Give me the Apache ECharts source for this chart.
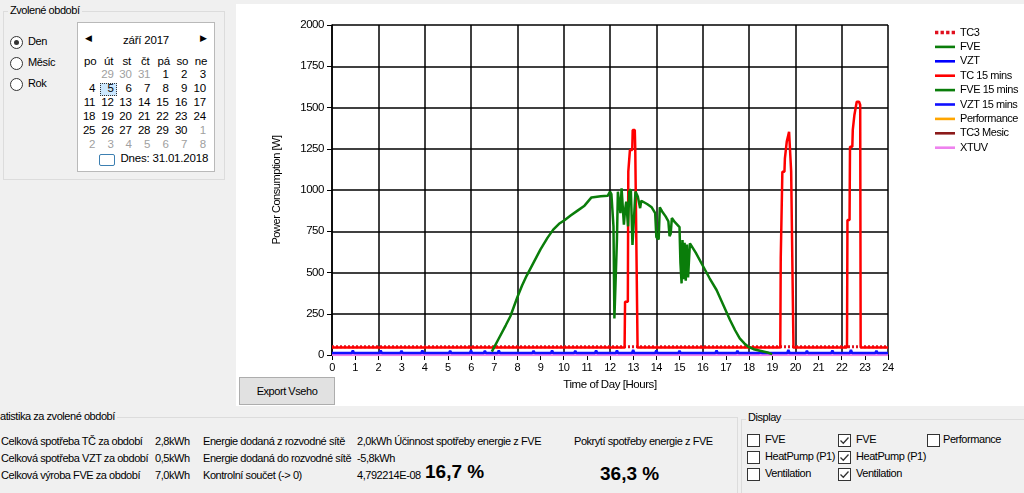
<!DOCTYPE html>
<html>
<head>
<meta charset="utf-8">
<script src="https://cdn.jsdelivr.net/npm/echarts@6/dist/echarts.min.js"></script>
<style>
html,body{margin:0;padding:0;width:1024px;height:493px;overflow:hidden;background:#f0f0f0;font-family:"Liberation Sans",Arial,sans-serif;font-size:11px;letter-spacing:-0.45px;color:#000;}
.abs{position:absolute;white-space:nowrap;}
.gb{position:absolute;border:1px solid #dcdcdc;}
.gbt{position:absolute;background:#f0f0f0;padding:0 2px;white-space:nowrap;}
.radio{position:absolute;width:11px;height:11px;border:1px solid #333;border-radius:50%;background:#fff;}
.radio.on::after{content:"";position:absolute;left:3px;top:3px;width:5px;height:5px;border-radius:50%;background:#333;}
.cb{position:absolute;width:11px;height:11px;border:1px solid #333;background:#fff;}
.cb svg{position:absolute;left:0px;top:0px;}
.cal{position:absolute;left:77px;top:22px;width:136px;height:148px;background:#fff;border:1px solid #b9b9b9;font-size:11.5px;letter-spacing:-0.2px;}
.dh,.dn{position:absolute;width:18px;text-align:center;}
.dn{text-align:right;}
.gray{color:#a0a0a0;}
#chart{position:absolute;left:236px;top:4px;width:788px;height:402px;background:#fff;}
.btn{position:absolute;left:239px;top:377px;width:94px;height:26px;background:#e1e1e1;border:1px solid #adadad;text-align:center;line-height:26px;}
.big{position:absolute;font-weight:bold;font-size:19px;letter-spacing:0;white-space:nowrap;}
</style>
</head>
<body>
<!-- Period selector -->
<div class="gb" style="left:3px;top:11px;width:220px;height:167px;"></div>
<div class="gbt" style="left:8px;top:4px;">Zvolené období</div>
<div class="radio on" style="left:10px;top:36px;"></div><div class="abs" style="left:28px;top:35px;">Den</div>
<div class="radio" style="left:10px;top:57px;"></div><div class="abs" style="left:28px;top:56px;">Měsíc</div>
<div class="radio" style="left:10px;top:78px;"></div><div class="abs" style="left:28px;top:77px;">Rok</div>
<div class="cal" id="cal"></div>

<div id="chart"></div>
<div class="btn">Export Vseho</div>

<!-- Statistics -->
<div class="gb" style="left:-2px;top:417px;width:738px;height:80px;"></div>
<div class="gbt" style="left:0px;top:410px;padding-left:0;">atistika za zvolené období</div>
<div id="stats"></div>
<div class="big" style="left:425px;top:461px;">16,7 %</div>
<div class="big" style="left:600px;top:463px;">36,3 %</div>

<!-- Display -->
<div class="gb" style="left:741px;top:419px;width:290px;height:80px;"></div>
<div class="gbt" style="left:746px;top:411px;">Display</div>
<div id="disp"></div>

<script>
// ---------- data ----------
const monthTitle = 'září 2017';
const dayNames = ['po','út','st','čt','pá','so','ne'];
const calDays = [
  [29,30,31,1,2,3],
  [4,5,6,7,8,9,10],
  [11,12,13,14,15,16,17],
  [18,19,20,21,22,23,24],
  [25,26,27,28,29,30,1],
  [2,3,4,5,6,7,8]
];
const todayText = 'Dnes: 31.01.2018';

const statLabels = ['Celková spotřeba TČ za období','Celková spotřeba VZT za období','Celková výroba FVE za období'];
const statValues = ['2,8kWh','0,5kWh','7,0kWh'];
const gridLabels = ['Energie dodaná z rozvodné sítě','Energie dodaná do rozvodné sítě','Kontrolní součet (-> 0)'];
const gridValues = ['2,0kWh Účinnost spotřeby energie z FVE','-5,8kWh','4,792214E-08'];
const coverLabel = 'Pokrytí spotřeby energie z FVE';

const displayCol1 = ['FVE','HeatPump (P1)','Ventilation'];
const displayCol2 = ['FVE','HeatPump (P1)','Ventilation'];
const displayCol3 = ['Performance'];

const seriesNames = ['TC3','FVE','VZT','TC 15 mins','FVE 15 mins','VZT 15 mins','Performance','TC3 Mesic','XTUV'];
const seriesColors = ['#e0101e','#0a7d0a','#0000ff','#ff0000','#0a7d0a','#1010ff','#ffa500','#8b1a1a','#ee82ee'];

// TC3 (dotted) baseline
const tc3Hours = [0, 24];
const tc3Values = [50, 50];
// VZT baseline
const vztHours = [0, 24];
const vztValues = [4, 4];
// XTUV
const xtuvHours = [0, 24];
const xtuvValues = [0, 0];

// TC 15 mins (red)
const tcHours = [0, 12.63, 12.65, 12.77, 12.79, 12.84, 12.86, 12.96, 12.98, 13.07, 13.09, 13.17, 13.19,
  19.35, 19.37, 19.42, 19.44, 19.53, 19.55, 19.61, 19.63, 19.71, 19.73, 19.8, 19.82, 19.9, 19.92,
  22.23, 22.25, 22.34, 22.36, 22.46, 22.48, 22.53, 22.55, 22.63, 22.65, 22.75, 22.8, 22.82, 24];
const tcValues = [45, 45, 323, 323, 1111, 1111, 1242, 1242, 1364, 1364, 1250, 1250, 45,
  45, 586, 586, 1111, 1111, 1192, 1192, 1293, 1293, 1353, 1353, 1111, 1111, 45,
  45, 818, 818, 1262, 1262, 1364, 1364, 1455, 1455, 1535, 1535, 1515, 45, 45];

// FVE 15 mins (green)
const fveHours = [6.9, 7.2, 7.5, 7.7, 8.0, 8.2, 8.4, 8.7, 9.0, 9.3, 9.55, 9.8, 10.05, 10.3, 10.6, 10.9, 11.2, 11.6, 11.9, 12.0,
  12.06, 12.15, 12.19, 12.25, 12.3, 12.34, 12.38, 12.45, 12.5, 12.55, 12.6, 12.65, 12.7, 12.78, 12.83, 12.9, 12.97, 13.03, 13.1, 13.2,
  13.3, 13.35, 13.42, 13.6, 13.8, 13.95, 14.0, 14.1, 14.15, 14.25, 14.4, 14.52, 14.57, 14.62, 14.67, 14.8, 15.0, 15.04, 15.09, 15.13,
  15.18, 15.22, 15.27, 15.32, 15.37, 15.45, 15.7, 16.03, 16.3, 16.6, 16.9, 17.18, 17.4, 17.6, 17.8, 17.97, 18.2, 18.47, 18.8, 19.0];
const fveValues = [20, 100, 180, 235, 350, 420, 480, 560, 640, 710, 760, 795, 818, 845, 875, 905, 955, 962, 965, 990,
  975, 780, 222, 230, 700, 990, 1000, 860, 1010, 900, 790, 880, 930, 780, 990, 1005, 667, 670, 990, 960,
  890, 935, 925, 915, 895, 860, 715, 700, 895, 870, 840, 810, 720, 735, 830, 805, 775, 560, 434, 697,
  460, 680, 450, 670, 470, 677, 620, 535, 465, 394, 300, 212, 150, 101, 70, 50, 35, 26, 15, 5];

// VZT 15 mins (blue)
const vzt15Hours = [0, 0.85, 0.9, 0.95, 2.05, 2.1, 2.15, 2.95, 3.0, 3.05, 3.85, 3.9, 3.95, 5.05, 5.1, 5.15,
  5.95, 6.0, 6.05, 6.55, 6.6, 6.65, 7.15, 7.2, 7.25, 8.65, 8.7, 8.75, 9.45, 9.5, 9.55, 10.45, 10.5, 10.55,
  11.35, 11.4, 11.45, 12.25, 12.3, 12.35, 12.95, 13.0, 13.05, 13.95, 14.0, 14.05, 14.95, 15.0, 15.05,
  16.55, 16.6, 16.65, 17.45, 17.5, 17.55, 18.45, 18.5, 18.55, 19.65, 19.7, 19.75, 20.45, 20.5, 20.55,
  21.55, 21.6, 21.65, 22.35, 22.4, 22.45, 23.45, 23.5, 23.55, 24];
const vzt15Values = [12, 12, 28, 12, 12, 28, 12, 12, 26, 12, 12, 28, 12, 12, 26, 12,
  12, 28, 12, 12, 26, 12, 12, 28, 12, 12, 26, 12, 12, 28, 12, 12, 26, 12,
  12, 28, 12, 12, 28, 12, 12, 30, 12, 12, 28, 12, 12, 26, 12,
  12, 28, 12, 12, 26, 12, 12, 28, 12, 12, 30, 12, 12, 26, 12,
  12, 28, 12, 12, 30, 12, 12, 26, 12, 12];

const xMin = 0, xMax = 24, xLabelStep = 1, xGridStep = 2;
const yMin = 0, yMax = 2000, yStep = 250;

// ---------- UI ----------
(function buildCalendar(){
  const cal = document.getElementById('cal');
  const ox = 77, oy = 22;
  const colCenters = [89.3,107.7,125.7,144.3,162.7,181.3,200];
  const rowY = [74,88.3,101.7,116,130,144];
  let h = '';
  h += `<div class="abs" style="left:${86.5-ox-3}px;top:${39-oy-7}px;font-size:9px;">&#9664;</div>`;
  h += `<div class="abs" style="left:${201.7-ox-3}px;top:${39-oy-7}px;font-size:9px;">&#9654;</div>`;
  h += `<div class="abs" style="left:0;width:136px;text-align:center;top:${39.5-oy-7}px;">${monthTitle}</div>`;
  dayNames.forEach((d,i)=>{ h += `<div class="dh" style="left:${colCenters[i]-ox-9}px;top:${60.7-oy-7}px;">${d}</div>`; });
  calDays.forEach((row,r)=>{
    const start = r===0 ? 1 : 0;
    row.forEach((d,j)=>{
      const c = start + j;
      const gray = (r===0 && d>20) || (r===4 && c===6) || r===5;
      const sel = (r===1 && d===5);
      if(sel){
        h += `<div class="abs" style="left:${99.3-ox}px;top:${81.5-oy}px;width:17px;height:13px;background:#cce8ff;border:1px dotted #333;box-sizing:border-box;"></div>`;
      }
      h += `<div class="dn${gray?' gray':''}" style="left:${colCenters[c]+5-18-ox}px;top:${rowY[r]-oy-7}px;">${d}</div>`;
    });
  });
  h += `<div class="abs" style="left:${98-ox}px;top:${152.5-oy}px;width:14px;height:10px;border:1.5px solid #3c7fb1;border-radius:2px;"></div>`;
  h += `<div class="abs" style="left:${119.5-ox}px;top:${158-oy-7}px;">${todayText}</div>`;
  cal.innerHTML = h;
})();

(function buildStats(){
  const el = document.getElementById('stats');
  const rowsY = [442, 459, 476];
  let h = '';
  rowsY.forEach((y,i)=>{
    h += `<div class="abs" style="left:1px;top:${y-7}px;">${statLabels[i]}</div>`;
    h += `<div class="abs" style="left:155px;top:${y-7}px;">${statValues[i]}</div>`;
    h += `<div class="abs" style="left:203px;top:${y-7}px;">${gridLabels[i]}</div>`;
    h += `<div class="abs" style="left:357px;top:${y-7}px;">${gridValues[i]}</div>`;
  });
  h += `<div class="abs" style="left:574px;top:${442-7}px;">${coverLabel}</div>`;
  el.innerHTML = h;
})();

(function buildDisplay(){
  const el = document.getElementById('disp');
  const rowsY = [440, 457, 474];
  const check = '<svg width="11" height="11" viewBox="0 0 11 11"><path d="M1.5 5.5 L4.3 8.3 L9.5 2.5" fill="none" stroke="#333" stroke-width="1.3"/></svg>';
  let h = '';
  displayCol1.forEach((t,i)=>{
    h += `<div class="cb" style="left:747px;top:${rowsY[i]-6}px;"></div><div class="abs" style="left:765px;top:${rowsY[i]-7}px;">${t}</div>`;
  });
  displayCol2.forEach((t,i)=>{
    h += `<div class="cb" style="left:838px;top:${rowsY[i]-6}px;">${check}</div><div class="abs" style="left:856px;top:${rowsY[i]-7}px;">${t}</div>`;
  });
  displayCol3.forEach((t,i)=>{
    h += `<div class="cb" style="left:927px;top:${rowsY[i]-6}px;"></div><div class="abs" style="left:943px;top:${rowsY[i]-7}px;">${t}</div>`;
  });
  el.innerHTML = h;
})();

// ---------- chart ----------
function pairs(xs, ys){ return xs.map((x,i)=>[x, ys[i]]); }
const seriesData = {
  'TC3': pairs(tc3Hours, tc3Values),
  'FVE': [],
  'VZT': pairs(vztHours, vztValues),
  'TC 15 mins': pairs(tcHours, tcValues),
  'FVE 15 mins': pairs(fveHours, fveValues),
  'VZT 15 mins': pairs(vzt15Hours, vzt15Values),
  'Performance': [],
  'TC3 Mesic': [],
  'XTUV': pairs(xtuvHours, xtuvValues)
};
const order = ['TC3','FVE','VZT','XTUV','VZT 15 mins','TC 15 mins','FVE 15 mins','Performance','TC3 Mesic'];

const chart = echarts.init(document.getElementById('chart'), null, {renderer:'canvas'});
const font = '"Liberation Sans", Arial, sans-serif';
const series = seriesNames.map((name,i)=>({
  name: name,
  type: 'line',
  data: seriesData[name],
  showSymbol: false,
  symbol: 'none',
  animation: false,
  z: 2 + order.indexOf(name),
  lineStyle: {
    color: seriesColors[i],
    width: name === 'TC3' ? 3 : 2.5,
    type: name === 'TC3' ? [2, 2] : 'solid'
  },
  itemStyle: { color: seriesColors[i] }
}));

chart.setOption({
  animation: false,
  backgroundColor: '#fff',
  textStyle: { fontFamily: font },
  grid: { left: 96, top: 21, width: 556, height: 330, containLabel: false },
  legend: {
    orient: 'vertical',
    left: 694,
    top: 18,
    itemWidth: 20,
    itemHeight: 12,
    itemGap: 3.4,
    data: seriesNames.map((n,i)=>({name:n, icon: n==='TC3' ? 'path://M0,4.5 L3,4.5 L3,7.5 L0,7.5 Z M5,4.5 L8,4.5 L8,7.5 L5,7.5 Z M10,4.5 L13,4.5 L13,7.5 L10,7.5 Z M15,4.5 L18,4.5 L18,7.5 L15,7.5 Z' : 'path://M0,4.7 L20,4.7 L20,7.3 L0,7.3 Z'})),
    textStyle: { fontSize: 11, color: '#000', fontFamily: font }
  },
  xAxis: [
    {
      type: 'value', min: xMin, max: xMax, interval: xLabelStep,
      name: 'Time of Day [Hours]', nameLocation: 'middle', nameGap: 24,
      nameTextStyle: { fontSize: 11.5, color: '#000' },
      axisLine: { show: true, lineStyle: { color: '#000', width: 1.5 } },
      axisTick: { show: true, length: 5, lineStyle: { color: '#000', width: 1 } },
      axisLabel: { color: '#000', fontSize: 11, margin: 7 },
      splitLine: { show: false }
    },
    {
      type: 'value', min: xMin, max: xMax, interval: xGridStep, position: 'bottom',
      axisLine: { show: false }, axisTick: { show: false }, axisLabel: { show: false },
      splitLine: { show: true, lineStyle: { color: '#000', width: 1.5 } }
    }
  ],
  yAxis: {
    type: 'value', min: yMin, max: yMax, interval: yStep,
    name: 'Power Consumption [W]', nameLocation: 'middle', nameGap: 50, nameRotate: 90,
    nameTextStyle: { fontSize: 11, color: '#000' },
    axisLine: { show: true, lineStyle: { color: '#000', width: 1.5 } },
    axisTick: { show: true, length: 5, lineStyle: { color: '#000', width: 1 } },
    axisLabel: { color: '#000', fontSize: 11.5, margin: 8, formatter: v => String(v) },
    splitLine: { show: true, lineStyle: { color: '#000', width: 1.5 } }
  },
  series: series
});
</script>
</body>
</html>
